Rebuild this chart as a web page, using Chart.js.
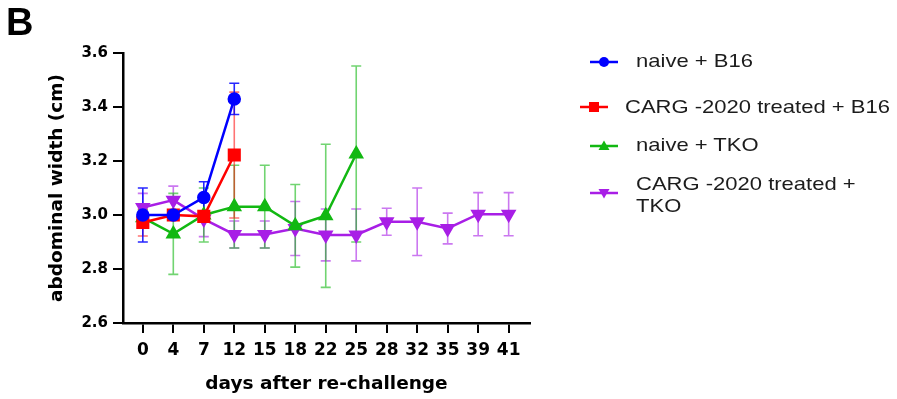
<!DOCTYPE html>
<html>
<head>
<meta charset="utf-8">
<script src="https://cdn.jsdelivr.net/npm/chart.js@4/dist/chart.umd.min.js"></script>
<style>
  html, body { margin: 0; padding: 0; background: #ffffff; }
  #wrap { position: relative; width: 897px; height: 399px; overflow: hidden; background: #fff; }
  #c { position: absolute; left: 0; top: 0; }
  .panel { position: absolute; left: 6px; top: 2px; font: bold 38px "Liberation Sans", Arial, sans-serif; line-height: 40px; color: #000; }
  .lg { position: absolute; font: 18.5px "Liberation Sans", Arial, sans-serif; line-height: 22px; color: #1c1c1c;
        white-space: nowrap; transform: scaleX(1.19); transform-origin: 0 0; }
  .mk { position: absolute; width: 30px; height: 14px; }
</style>
</head>
<body>
<div id="wrap">
  <canvas id="c" width="897" height="399"></canvas>
  <div class="panel">B</div>

  <svg class="mk" style="left:589px;top:55px" viewBox="0 0 30 14"><line x1="1" y1="7" x2="29" y2="7" stroke="#0000ff" stroke-width="2.5"/><circle cx="15" cy="7" r="5" fill="#0000ff"/></svg>
  <div class="lg" style="left:636px;top:50px">naive + B16</div>

  <svg class="mk" style="left:579px;top:100px" viewBox="0 0 30 14"><line x1="1" y1="7" x2="29" y2="7" stroke="#ff0000" stroke-width="2.5"/><rect x="10" y="2" width="10" height="10" fill="#ff0000"/></svg>
  <div class="lg" style="left:625px;top:96px">CARG -2020 treated + B16</div>

  <svg class="mk" style="left:589px;top:139px" viewBox="0 0 30 14"><line x1="1" y1="7" x2="29" y2="7" stroke="#12b812" stroke-width="2.5"/><polygon points="15,1.5 20.5,11 9.5,11" fill="#12b812"/></svg>
  <div class="lg" style="left:636px;top:134px">naive + TKO</div>

  <svg class="mk" style="left:589px;top:186px" viewBox="0 0 30 14"><line x1="1" y1="7" x2="29" y2="7" stroke="#a81ee6" stroke-width="2.5"/><polygon points="9.5,3 20.5,3 15,12.5" fill="#a81ee6"/></svg>
  <div class="lg" style="left:636px;top:173px">CARG -2020 treated +<br>TKO</div>
</div>
<script>
// ---- data ----
const categories = ['0','4','7','12','15','18','22','25','28','32','35','39','41'];

const naiveB16     = [3.00, 3.00, 3.065, 3.43];
const naiveB16Err  = [0.10, 0.01, 0.058, 0.058];

const cargB16      = [2.972, 3.00, 2.995, 3.222];
const cargB16Err   = [0.05, 0.01, 0.01, 0.233];

const naiveTKO     = [2.99, 2.93, 3.00, 3.031, 3.031, 2.96, 2.997, 3.226];
const naiveTKOErr  = [0.03, 0.15, 0.10, 0.153, 0.153, 0.153, 0.265, 0.326];

const cargTKO      = [3.028, 3.055, 2.985, 2.928, 2.928, 2.95, 2.926, 2.926, 2.975, 2.975, 2.95, 3.003, 3.003];
const cargTKOErr   = [0.052, 0.052, 0.065, 0.05, 0.05, 0.10, 0.096, 0.096, 0.05, 0.125, 0.057, 0.08, 0.08];

const yTicks = [2.6, 2.8, 3.0, 3.2, 3.4, 3.6];

function pts(arr) { return arr.map((v, i) => ({ x: i, y: v })); }

const errorBarPlugin = {
  id: 'errorBars',
  beforeDatasetsDraw(chart) {
    const ctx = chart.ctx;
    const ys = chart.scales.y;
    const dsets = chart.data.datasets;
    for (let d = dsets.length - 1; d >= 0; d--) {
      const ds = dsets[d];
      const meta = chart.getDatasetMeta(d);
      ctx.save();
      ctx.strokeStyle = ds.errorColor;
      ctx.lineWidth = 1.6;
      meta.data.forEach((el, i) => {
        const v = ds.data[i].y, e = ds.errors[i];
        if (v == null || e == null) return;
        const x = el.x;
        const yt = ys.getPixelForValue(v + e);
        const yb = ys.getPixelForValue(v - e);
        ctx.beginPath();
        ctx.moveTo(x, yt); ctx.lineTo(x, yb);
        ctx.moveTo(x - 5, yt); ctx.lineTo(x + 5, yt);
        ctx.moveTo(x - 5, yb); ctx.lineTo(x + 5, yb);
        ctx.stroke();
      });
      ctx.restore();
    }
  }
};

const axisFont = 'DejaVu Sans';

new Chart(document.getElementById('c'), {
  type: 'line',
  data: {
    datasets: [
      { label: 'naive + B16', data: pts(naiveB16), errors: naiveB16Err,
        borderColor: '#0000ff', backgroundColor: '#0000ff', errorColor: 'rgba(0,0,255,0.85)',
        pointStyle: 'circle', pointRadius: 5.5, borderWidth: 2.5 },
      { label: 'CARG -2020 treated + B16', data: pts(cargB16), errors: cargB16Err,
        borderColor: '#ff0000', backgroundColor: '#ff0000', errorColor: 'rgba(255,0,0,0.55)',
        pointStyle: 'rect', pointRadius: 7.5, borderWidth: 2.5 },
      { label: 'naive + TKO', data: pts(naiveTKO), errors: naiveTKOErr,
        borderColor: '#12b812', backgroundColor: '#12b812', errorColor: 'rgba(18,184,18,0.6)',
        pointStyle: 'triangle', pointRadius: 6.5, borderWidth: 2.5 },
      { label: 'CARG -2020 treated + TKO', data: pts(cargTKO), errors: cargTKOErr,
        borderColor: '#a81ee6', backgroundColor: '#a81ee6', errorColor: 'rgba(168,30,230,0.6)',
        pointStyle: 'triangle', pointRotation: 180, pointRadius: 6.5, borderWidth: 2.5 }
    ]
  },
  options: {
    responsive: false,
    animation: false,
    devicePixelRatio: 1,
    layout: { padding: { left: 40, right: 367, top: 53, bottom: 0 } },
    plugins: { legend: { display: false }, tooltip: { enabled: false } },
    elements: { line: { tension: 0 }, point: { borderWidth: 0 } },
    scales: {
      x: {
        type: 'linear', min: -0.65, max: 12.7,
        afterBuildTicks(scale) { scale.ticks = categories.map((c, i) => ({ value: i })); },
        afterFit(scale) { scale.height = 76; },
        ticks: { callback: (v) => categories[v], autoSkip: false, maxRotation: 0,
                 color: '#000', padding: 7, font: { family: axisFont, weight: 'bold', size: 17 } },
        grid: { display: true, drawOnChartArea: false, drawTicks: true, tickLength: 10, color: '#000', lineWidth: 2 },
        border: { display: true, color: '#000', width: 2.5 },
        title: { display: true, text: 'days after re-challenge', color: '#000',
                 padding: { top: 0, bottom: 4 }, font: { family: axisFont, weight: 'bold', size: 18.5, lineHeight: 1.2 } }
      },
      y: {
        min: 2.6, max: 3.6,
        afterBuildTicks(scale) { scale.ticks = yTicks.map(v => ({ value: v })); },
        afterFit(scale) { scale.width = 83; },
        ticks: { callback: (v) => v.toFixed(1), color: '#000', padding: 5,
                 font: { family: axisFont, weight: 'bold', size: 15 } },
        grid: { display: true, drawOnChartArea: false, drawTicks: true, tickLength: 10, color: '#000', lineWidth: 2 },
        border: { display: true, color: '#000', width: 2.5 },
        title: { display: true, text: 'abdominal width (cm)', color: '#000',
                 padding: { top: 6, bottom: 0 }, font: { family: axisFont, weight: 'bold', size: 18.5, lineHeight: 1.2 } }
      }
    }
  },
  plugins: [errorBarPlugin]
});
</script>
</body>
</html>
